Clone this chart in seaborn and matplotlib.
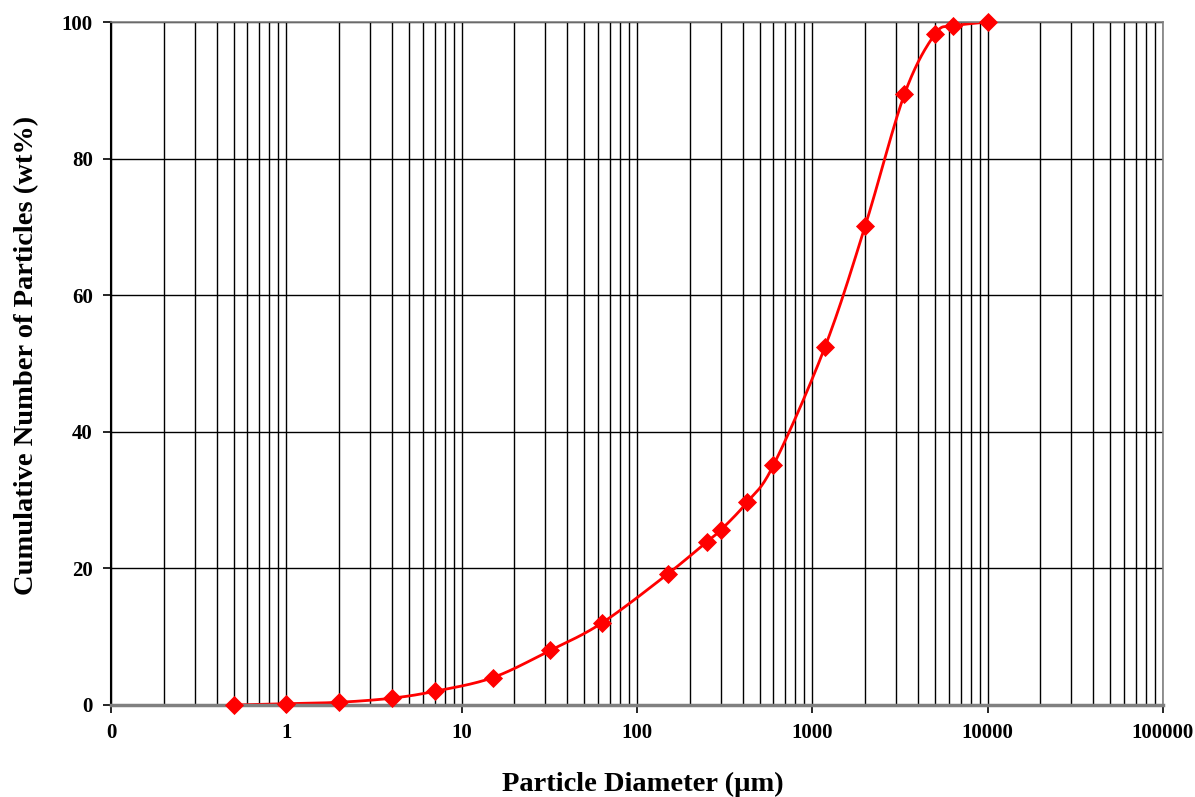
import numpy as np
import pandas as pd
import matplotlib
matplotlib.use("Agg")
import matplotlib.pyplot as plt
import seaborn as sns
from matplotlib.ticker import FixedLocator, FixedFormatter, LogLocator, NullFormatter

diameter = [0.5, 1, 2, 4, 7, 15, 32, 63, 150, 250, 300, 425, 600, 1180, 2000, 3350, 5000, 6350, 10000]
cumulative = [0.0, 0.2, 0.4, 1.0, 2.0, 4.0, 8.0, 12.0, 19.2, 23.9, 25.6, 29.7, 35.1, 52.4, 70.1, 89.4, 98.2, 99.4, 100.0]
x_ticks = [0.1, 1, 10, 100, 1000, 10000, 100000]
x_tick_labels = ["0", "1", "10", "100", "1000", "10000", "100000"]
y_ticks = [0, 20, 40, 60, 80, 100]

sns.set_theme(style="white")
plt.rcParams['font.family'] = ['Liberation Serif', 'DejaVu Serif']
plt.rcParams['font.weight'] = 'bold'
plt.rcParams['text.color'] = 'black'
plt.rcParams['axes.labelcolor'] = 'black'
plt.rcParams['xtick.color'] = 'black'
plt.rcParams['ytick.color'] = 'black'

# Excel-like smoothed line (Catmull-Rom Bezier in log-x space)
lx = np.log10(np.array(diameter, dtype=float))
yy = np.array(cumulative, dtype=float)
pts = np.column_stack([lx, yy])
sc = np.array([175.3, 6.83])
P = pts * sc
curve = []
n = len(P)
t = np.linspace(0, 1, 30)
for i in range(n - 1):
    p0 = P[i - 1] if i > 0 else P[i]
    p1 = P[i]
    p2 = P[i + 1]
    p3 = P[i + 2] if i + 2 < n else P[i + 1]
    c1 = p1 + (p2 - p0) / 6.0
    c2 = p2 - (p3 - p1) / 6.0
    seg = ((1 - t)[:, None] ** 3 * p1 + 3 * ((1 - t) ** 2 * t)[:, None] * c1
           + 3 * ((1 - t) * t ** 2)[:, None] * c2 + (t ** 3)[:, None] * p2)
    curve.append(seg if i == 0 else seg[1:])
curve = np.vstack(curve) / sc
smooth = pd.DataFrame({"d": 10 ** curve[:, 0], "c": curve[:, 1]})
df = pd.DataFrame({"d": diameter, "c": cumulative})

fig = plt.figure(figsize=(11.95, 7.97), dpi=100)
ax = fig.add_axes([111 / 1195, 92 / 797, 1052 / 1195, 683 / 797])
ax.set_xscale("log")
ax.set_xlim(0.1, 100000)
ax.set_ylim(0, 100)

ax.xaxis.set_major_locator(FixedLocator(x_ticks))
ax.xaxis.set_major_formatter(FixedFormatter(x_tick_labels))
ax.xaxis.set_minor_locator(LogLocator(base=10, subs=np.arange(2, 10)))
ax.xaxis.set_minor_formatter(NullFormatter())
ax.yaxis.set_major_locator(FixedLocator(y_ticks))
ax.grid(True, which="both", axis="x", color="black", linewidth=1.0)
ax.grid(True, which="major", axis="y", color="black", linewidth=1.0)
ax.set_axisbelow(True)

sns.lineplot(data=smooth, x="d", y="c", ax=ax, color="#ff0000", linewidth=2.0, sort=False, estimator=None)
sns.scatterplot(data=df, x="d", y="c", ax=ax, marker="D", color="#ff0000", s=95, edgecolor="#ff0000", linewidth=0, zorder=5, clip_on=False)

for side in ["top", "right"]:
    ax.spines[side].set_color("#808080")
    ax.spines[side].set_linewidth(1.2)
ax.spines["left"].set_color("black")
ax.spines["left"].set_linewidth(1.5)
ax.spines["bottom"].set_color("#808080")
ax.spines["bottom"].set_linewidth(2.5)

ax.tick_params(axis="both", which="major", direction="out", length=6, width=1.2, color="black",
               labelcolor="black", labelsize=15, pad=7, bottom=True, left=True)
ax.tick_params(axis="x", which="minor", length=0)
for lab in ax.get_xticklabels() + ax.get_yticklabels():
    lab.set_fontweight("bold")

ax.set_xlabel("Particle Diameter (µm)", fontsize=20.5, fontweight="bold", labelpad=21, color="black")
ax.xaxis.label.set_x(0.5057)
ax.set_ylabel("Cumulative Number of Particles (wt%)", fontsize=20.5, fontweight="bold", labelpad=16, color="black")
ax.yaxis.label.set_y(0.512)

fig.savefig("out.png", dpi=100)
